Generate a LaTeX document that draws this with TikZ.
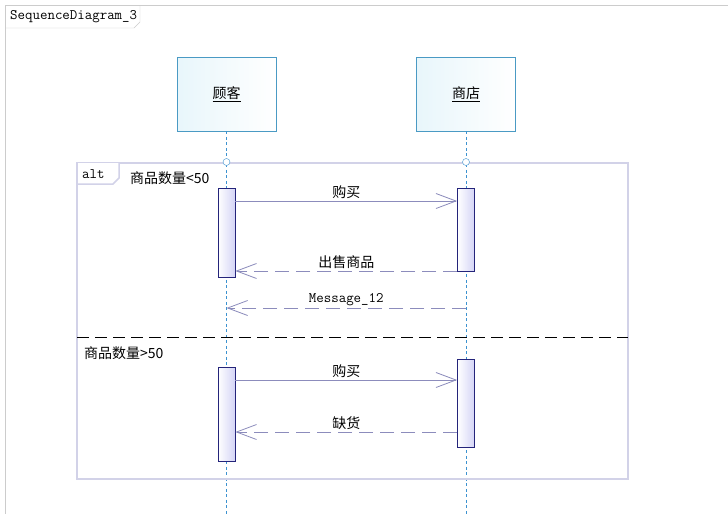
\documentclass[tikz,border=0pt]{standalone}
\usepackage{fontspec}
\setmainfont{Noto Sans CJK SC}
\usepackage{tikz}
\usetikzlibrary{arrows.meta, positioning, calc}
\definecolor{headline}{HTML}{4A9AC4}
\definecolor{headfill}{HTML}{E8F6FB}
\definecolor{lifeblue}{HTML}{3C92D0}
\definecolor{frameline}{HTML}{D2D2E8}
\definecolor{msgline}{HTML}{8C8CBC}
\definecolor{actline}{HTML}{24247A}
\definecolor{actfill}{HTML}{D4D4F6}
\tikzset{
  lifehead/.style={rectangle, draw=headline, thick, left color=headfill, right color=white,
                   minimum width=99pt, minimum height=74pt, font=\fontsize{14}{16}\selectfont},
  actbox/.style={rectangle, draw=actline, thick, left color=white, right color=actfill,
                 minimum width=17pt, inner sep=0pt},
  lifeline/.style={lifeblue, thick, dash pattern=on 3pt off 2.5pt},
  msg/.style={msgline, thick, -{Straight Barb[length=20pt, width=15pt]}},
  reply/.style={msg, dash pattern=on 14pt off 7pt},
  mlbl/.style={text=black, font=\fontsize{14}{16}\selectfont, inner sep=2pt},
  guard/.style={font=\fontsize{14}{16}\selectfont, anchor=west, inner sep=0pt},
  tabtxt/.style={font=\fontsize{14.5}{16}\selectfont\ttfamily, anchor=west, inner sep=0pt},
}

\begin{document}
\begin{tikzpicture}[x=1pt, y=-1pt]
\useasboundingbox (0,0) rectangle (728,514);
\fill[white] (0,0) rectangle (728,514);

% outer diagram frame
\draw[gray!40] (728,5) -- (5,5) -- (5,514);
\draw[gray!40] (5,28) -- (134,28) -- (140,22) -- (140,5);
\node[tabtxt] (title) at (10,17) {SequenceDiagram\_3};

% lifelines
\node[lifehead] (cust) at (226.5,94) {\underline{顾客}};
\node[lifehead] (shop) at (466,94) {\underline{商店}};
\coordinate (bot) at (0,514);
\draw[lifeline] (cust.south) -- (cust |- bot);
\draw[lifeline] (shop.south) -- (shop |- bot);

% alt fragment
\draw[frameline, line width=2.5pt] (77,163) rectangle (628,479);
\draw[frameline, line width=1.5pt, fill=white] (77,163) -- (77,184) -- (113,184) -- (119,178) -- (119,163);
\node[tabtxt] (alt) at (82,174) {alt};
\node[guard] (g1) at (130,178) {商品数量<50};
\draw[black, line width=0.8pt, dash pattern=on 12pt off 6pt] (77,337) -- (628,337);
\node[guard] (g2) at (84,353) {商品数量>50};
\draw[lifeblue, fill=white] (cust |- 0,162) circle (3.5);
\draw[lifeblue, fill=white] (shop |- 0,162) circle (3.5);

% activations
\node[actbox, minimum height=89pt] (ca1) at (226.5,232.5) {};
\node[actbox, minimum height=83pt] (sa1) at (466,229.5) {};
\node[actbox, minimum height=94pt] (ca2) at (226.5,414) {};
\node[actbox, minimum height=88pt] (sa2) at (466,403) {};

% messages
\coordinate (m1) at (0,201);
\coordinate (m2) at (0,271);
\coordinate (m3) at (0,308);
\coordinate (m4) at (0,380);
\coordinate (m5) at (0,432);
\draw[msg] (ca1.east |- m1) -- node[mlbl, above] (l1) {购买} (sa1.west |- m1);
\draw[reply] (sa1.west |- m2) -- node[mlbl, above] (l2) {出售商品} (ca1.east |- m2);
\draw[reply] (shop |- m3) -- node[mlbl, above, font=\fontsize{14.5}{16}\selectfont\ttfamily] (l3) {Message\_12} (cust |- m3);
\draw[msg] (ca2.east |- m4) -- node[mlbl, above] (l4) {购买} (sa2.west |- m4);
\draw[reply] (sa2.west |- m5) -- node[mlbl, above] (l5) {缺货} (ca2.east |- m5);
\end{tikzpicture}
\end{document}
